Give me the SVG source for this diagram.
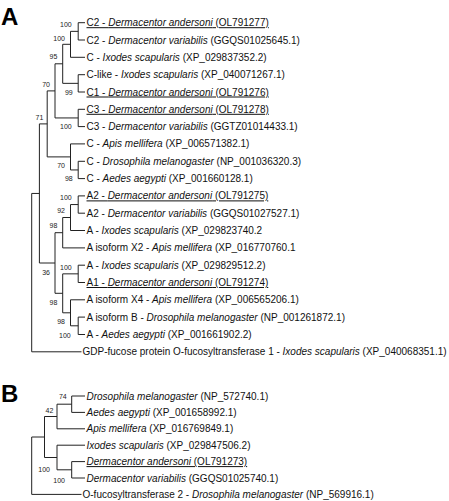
<svg xmlns="http://www.w3.org/2000/svg" width="449" height="501" viewBox="0 0 449 501">
<style>
.lf{font-family:"Liberation Sans",Arial,sans-serif;font-size:10px;fill:#111}
.bs{font-family:"Liberation Sans",Arial,sans-serif;font-size:7px;fill:#222;text-anchor:end}
.pl{font-family:"Liberation Sans",Arial,sans-serif;font-size:24px;font-weight:bold;fill:#000}
.u{text-decoration:underline}
.br{fill:none;stroke:#222;stroke-width:1}
</style>
<rect width="449" height="501" fill="#fff"/>
<text class="pl" x="1" y="25">A</text>
<text class="pl" x="1" y="402">B</text>
<g id="connectors" class="br">
<path d="M78.2 22.7V40M78.2 22.7H85M78.2 40H85"/>
<path d="M70.5 31.35V57.3M70.5 31.35H78.2M70.5 57.3H85"/>
<path d="M78.2 74.7V92M78.2 74.7H85M78.2 92H85"/>
<path d="M62.7 44.3V83.35M62.7 44.3H70.5M62.7 83.35H78.2"/>
<path d="M78.2 109.3V126.6M78.2 109.3H85M78.2 126.6H85"/>
<path d="M55 63.8V117.95M55 63.8H62.7M55 117.95H78.2"/>
<path d="M78.2 161.3V178.6M78.2 161.3H85M78.2 178.6H85"/>
<path d="M70.5 143.9V169.95M70.5 143.9H85M70.5 169.95H78.2"/>
<path d="M47.2 90.9V156.9M47.2 90.9H55M47.2 156.9H70.5"/>
<path d="M78.2 195.9V213.2M78.2 195.9H85M78.2 213.2H85"/>
<path d="M70.5 204.55V230.5M70.5 204.55H78.2M70.5 230.5H85"/>
<path d="M62.7 217.5V247.9M62.7 217.5H70.5M62.7 247.9H85"/>
<path d="M78.2 265.2V282.5M78.2 265.2H85M78.2 282.5H85"/>
<path d="M78.2 317.1V334.5M78.2 317.1H85M78.2 334.5H85"/>
<path d="M70.5 299.8V325.8M70.5 299.8H85M70.5 325.8H78.2"/>
<path d="M62.7 273.85V312.8M62.7 273.85H78.2M62.7 312.8H70.5"/>
<path d="M55 232.7V293.3M55 232.7H62.7M55 293.3H62.7"/>
<path d="M39.4 123.9V263M39.4 123.9H47.2M39.4 263H55"/>
<path d="M31.7 193.45V351.8M31.7 193.45H39.4M31.7 351.8H81.5"/>
<path d="M71.7 396V412.4M71.7 396H85M71.7 412.4H85"/>
<path d="M57 404.2V428.8M57 404.2H71.7M57 428.8H85"/>
<path d="M71.7 461.6V478M71.7 461.6H85M71.7 478H85"/>
<path d="M57 445.2V469.8M57 445.2H85M57 469.8H71.7"/>
<path d="M44.5 416.5V457.5M44.5 416.5H57M44.5 457.5H57"/>
<path d="M31.7 437V494.4M31.7 437H44.5M31.7 494.4H81.5"/>
</g>
<g id="leafA0"><text class="lf u" x="86.5" y="26.2">C2 - <tspan font-style="italic">Dermacentor andersoni</tspan> (OL791277)</text></g>
<g id="leafA1"><text class="lf" x="86.5" y="43.5">C2 - <tspan font-style="italic">Dermacentor variabilis</tspan> (GGQS01025645.1)</text></g>
<g id="leafA2"><text class="lf" x="86.5" y="60.8">C - <tspan font-style="italic">Ixodes scapularis</tspan> (XP_029837352.2)</text></g>
<g id="leafA3"><text class="lf" x="86.5" y="78.2">C-like - <tspan font-style="italic">Ixodes scapularis</tspan> (XP_040071267.1)</text></g>
<g id="leafA4"><text class="lf u" x="86.5" y="95.5">C1 - <tspan font-style="italic">Dermacentor andersoni</tspan> (OL791276)</text></g>
<g id="leafA5"><text class="lf u" x="86.5" y="112.8">C3 - <tspan font-style="italic">Dermacentor andersoni</tspan> (OL791278)</text></g>
<g id="leafA6"><text class="lf" x="86.5" y="130.1">C3 - <tspan font-style="italic">Dermacentor variabilis</tspan> (GGTZ01014433.1)</text></g>
<g id="leafA7"><text class="lf" x="86.5" y="147.4">C - <tspan font-style="italic">Apis mellifera</tspan> (XP_006571382.1)</text></g>
<g id="leafA8"><text class="lf" x="86.5" y="164.8">C - <tspan font-style="italic">Drosophila melanogaster</tspan> (NP_001036320.3)</text></g>
<g id="leafA9"><text class="lf" x="86.5" y="182.1">C - <tspan font-style="italic">Aedes aegypti</tspan> (XP_001660128.1)</text></g>
<g id="leafA10"><text class="lf u" x="86.5" y="199.4">A2 - <tspan font-style="italic">Dermacentor andersoni</tspan> (OL791275)</text></g>
<g id="leafA11"><text class="lf" x="86.5" y="216.7">A2 - <tspan font-style="italic">Dermacentor variabilis</tspan> (GGQS01027527.1)</text></g>
<g id="leafA12"><text class="lf" x="86.5" y="234">A - <tspan font-style="italic">Ixodes scapularis</tspan> (XP_029823740.2</text></g>
<g id="leafA13"><text class="lf" x="86.5" y="251.4">A isoform X2 - <tspan font-style="italic">Apis mellifera</tspan> (XP_016770760.1</text></g>
<g id="leafA14"><text class="lf" x="86.5" y="268.7">A - <tspan font-style="italic">Ixodes scapularis</tspan> (XP_029829512.2)</text></g>
<g id="leafA15"><text class="lf u" x="86.5" y="286">A1 - <tspan font-style="italic">Dermacentor andersoni</tspan> (OL791274)</text></g>
<g id="leafA16"><text class="lf" x="86.5" y="303.3">A isoform X4 - <tspan font-style="italic">Apis mellifera</tspan> (XP_006565206.1)</text></g>
<g id="leafA17"><text class="lf" x="86.5" y="320.6">A isoform B - <tspan font-style="italic">Drosophila melanogaster</tspan> (NP_001261872.1)</text></g>
<g id="leafA18"><text class="lf" x="86.5" y="338">A - <tspan font-style="italic">Aedes aegypti</tspan> (XP_001661902.2)</text></g>
<g id="leafA19"><text class="lf" x="82.5" y="355.3">GDP-fucose protein O-fucosyltransferase 1 - <tspan font-style="italic">Ixodes scapularis</tspan> (XP_040068351.1)</text></g>
<g id="nodeA_C2"><text class="bs" x="71.7" y="26.5">100</text></g>
<g id="nodeA_a"><text class="bs" x="65" y="40.8">100</text></g>
<g id="nodeA_95"><text class="bs" x="57.3" y="59.2">95</text></g>
<g id="nodeA_70"><text class="bs" x="50" y="87">70</text></g>
<g id="nodeA_99"><text class="bs" x="72.7" y="95">99</text></g>
<g id="nodeA_71"><text class="bs" x="43.3" y="120">71</text></g>
<g id="nodeA_C3"><text class="bs" x="71.7" y="129.2">100</text></g>
<g id="nodeA_70b"><text class="bs" x="65" y="168">70</text></g>
<g id="nodeA_Dro"><text class="bs" x="72.7" y="180.8">98</text></g>
<g id="nodeA_A2"><text class="bs" x="71.7" y="200">100</text></g>
<g id="nodeA_92"><text class="bs" x="65" y="213.3">92</text></g>
<g id="nodeA_98a"><text class="bs" x="57.3" y="228.3">98</text></g>
<g id="nodeA_100b"><text class="bs" x="71.7" y="270">100</text></g>
<g id="nodeA_36"><text class="bs" x="50" y="274.5">36</text></g>
<g id="nodeA_98b"><text class="bs" x="57.3" y="305">98</text></g>
<g id="nodeA_X4"><text class="bs" x="65" y="324.2">98</text></g>
<g id="nodeA_98c"><text class="bs" x="70.7" y="337.5">100</text></g>
<g id="leafB0"><text class="lf" x="86.5" y="399.5"><tspan font-style="italic">Drosophila melanogaster</tspan> (NP_572740.1)</text></g>
<g id="leafB1"><text class="lf" x="86.5" y="415.9"><tspan font-style="italic">Aedes aegypti</tspan> (XP_001658992.1)</text></g>
<g id="leafB2"><text class="lf" x="86.5" y="432.3"><tspan font-style="italic">Apis mellifera</tspan> (XP_016769849.1)</text></g>
<g id="leafB3"><text class="lf" x="86.5" y="448.7"><tspan font-style="italic">Ixodes scapularis</tspan> (XP_029847506.2)</text></g>
<g id="leafB4"><text class="lf u" x="86.5" y="465.1"><tspan font-style="italic">Dermacentor andersoni</tspan> (OL791273)</text></g>
<g id="leafB5"><text class="lf" x="86.5" y="481.5"><tspan font-style="italic">Dermacentor variabilis</tspan> (GGQS01025740.1)</text></g>
<g id="leafB6"><text class="lf" x="82.5" y="497.9">O-fucosyltransferase 2 - <tspan font-style="italic">Drosophila melanogaster</tspan> (NP_569916.1)</text></g>
<g id="nodeB_74"><text class="bs" x="66.7" y="399">74</text></g>
<g id="nodeB_42"><text class="bs" x="53.3" y="413.3">42</text></g>
<g id="nodeB_100a"><text class="bs" x="50" y="471.8">100</text></g>
<g id="nodeB_100b"><text class="bs" x="65" y="482.5">100</text></g>
</svg>
